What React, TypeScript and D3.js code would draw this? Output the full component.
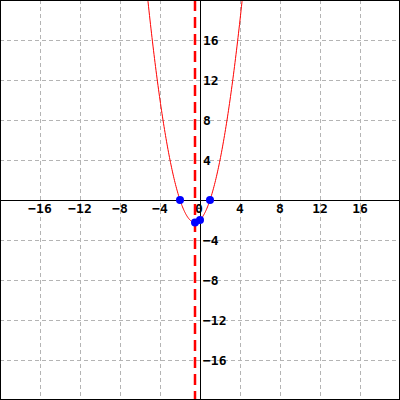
import React from 'react'
import * as d3 from 'd3'

// y = a*x^2 + b*x + c
const coefficients = [1, 1, -2]
const axisOfSymmetry = -0.5
const markedPoints: [number, number][] = [
  [-2, 0],
  [1, 0],
  [-0.5, -2.25],
  [0, -2],
]
const xTickValues = [-16, -12, -8, -4, 0, 4, 8, 12, 16]
const yTickValues = [-16, -12, -8, -4, 4, 8, 12, 16]
const gridValues = [-16, -12, -8, -4, 4, 8, 12, 16]

const App = () => {
  const size = 400
  const x = d3.scaleLinear().domain([-20, 20]).range([0, size])
  const y = d3.scaleLinear().domain([-20, 20]).range([size, 0])

  const [a, b, c] = coefficients
  const f = (t: number) => a * t * t + b * t + c
  const samples = d3.range(-6, 5.001, 0.05).map((t) => [t, f(t)] as [number, number])
  const line = d3
    .line<[number, number]>()
    .x((d) => x(d[0]))
    .y((d) => y(d[1]))

  const font = { fontFamily: 'DejaVu Sans Mono', fontWeight: 'bold', fontSize: 13 }

  return (
    <svg width={size} height={size} style={{ position: 'absolute', left: 0, top: 0, background: '#fff' }}>
      <defs>
        <clipPath id="plot">
          <rect x={0} y={0} width={size} height={size} />
        </clipPath>
      </defs>
      {/* grid */}
      {gridValues.map((v) => (
        <g key={'g' + v} stroke="#b4b4b4" strokeWidth={1} strokeDasharray="4,3">
          <line x1={x(v) + 0.5} x2={x(v) + 0.5} y1={0} y2={size} />
          <line x1={0} x2={size} y1={y(v) + 0.5} y2={y(v) + 0.5} />
        </g>
      ))}
      {/* axes */}
      <line x1={0} x2={size} y1={y(0) + 0.5} y2={y(0) + 0.5} stroke="#000" strokeWidth={1} />
      <line x1={x(0) + 0.5} x2={x(0) + 0.5} y1={0} y2={size} stroke="#000" strokeWidth={1} />
      {/* tick labels */}
      {xTickValues.map((v) => (
        <text key={'x' + v} x={x(v) - (v === 0 ? 1 : 0)} y={y(0) + 13} textAnchor="middle" fill="#000" {...font}>
          {v < 0 ? '\u2212' + Math.abs(v) : v}
        </text>
      ))}
      {yTickValues.map((v) => (
        <text key={'y' + v} x={x(0) + 3} y={y(v) + 5} textAnchor="start" fill="#000" {...font}>
          {v < 0 ? '\u2212' + Math.abs(v) : v}
        </text>
      ))}
      <g clipPath="url(#plot)">
        {/* axis of symmetry */}
        <line
          x1={x(axisOfSymmetry)}
          x2={x(axisOfSymmetry)}
          y1={0}
          y2={size}
          stroke="#f00"
          strokeWidth={2.5}
          strokeDasharray="11,6"
        />
        <path d={line(samples) ?? ''} fill="none" stroke="#f00" strokeWidth={1} />
        {markedPoints.map((p, i) => (
          <circle key={i} cx={x(p[0])} cy={y(p[1])} r={4} fill="#00f" />
        ))}
      </g>
      <rect x={0.5} y={0.5} width={size - 1} height={size - 1} fill="none" stroke="#000" strokeWidth={1} />
    </svg>
  )
}

export default App
